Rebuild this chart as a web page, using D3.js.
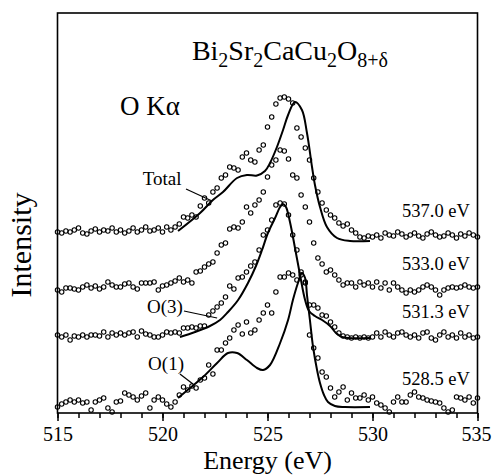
<!DOCTYPE html>
<html>
<head>
<meta charset="utf-8">
<script src="https://cdn.jsdelivr.net/npm/d3@7"></script>
<style>
  body { margin:0; background:#fff; }
  svg text { font-family:"Liberation Serif","Times New Roman",serif; fill:#000; }
</style>
</head>
<body>
<div id="chart"></div>
<script>
// measured on a 0.2 eV grid, 515 - 535 eV
const energies = d3.range(101).map(i => 515 + i * 0.2);

// excitation energies, top to bottom
const excitationLabels = ["537.0 eV", "533.0 eV", "531.3 eV", "528.5 eV"];
// vertical offset of each spectrum (arb. units)
const offsets = [177, 124, 76, 9];

// emission intensity (arb. units, above each offset)
const exc537 = [4,3,5,4,6,8,3,2,5,7,4,6,5,8,4,6,3,5,8,4,6,9,5,6,8,4,9,6,
  9,12,19,18,21,19,30,38,33,44,48,58,61,69,68,66,79,83,76,74,86,91,109,119,132,138,139,137,133,108,99,88,76,58,44,33,26,21,18,13,10,12,6,3,-1,
  -2,0,-1,1,-2,3,1,0,4,2,-1,1,3,0,-2,2,4,1,-1,0,3,1,-2,2,0,3,1,-1];
const exc533 = [-1,-3,1,1,0,-1,2,4,1,3,0,2,7,4,2,2,5,6,2,0,6,6,6,7,-1,3,4,6,8,11,7,9,6,17,18,22,25,27,36,44,46,60,62,61,67,82,76,84,
  89,97,112,124,129,139,138,130,114,111,94,82,67,46,31,25,17,19,14,9,4,6,
  6,2,7,4,6,2,7,1,6,-1,6,2,-1,-4,-1,-3,-1,2,4,2,-1,-6,-1,1,2,1,2,4,2,1,2];
const exc531 = [2,0,2,-3,1,0,2,0,2,2,1,5,0,4,2,4,2,4,5,0,6,3,2,0,0,2,5,4,5,4,9,9,10,9,11,11,
  22,26,30,34,40,51,48,59,60,65,71,75,87,102,107,117,132,134,133,122,102,87,62,54,32,32,29,22,21,15,10,4,1,
  0,-1,0,-1,0,-1,0,4,0,5,2,0,4,5,2,0,2,-1,4,5,-1,-3,2,5,0,2,-1,4,0,2,-1,0];
const exc528 = [-3,0,2,4,2,4,1,2,-6,2,4,6,-4,-8,2,3,11,9,7,4,8,11,-4,4,7,4,0,-3,2,9,
  17,14,18,16,24,26,39,30,54,54,61,66,74,79,70,82,71,74,84,91,99,91,112,127,127,131,129,124,132,122,
  69,56,46,32,27,16,7,12,17,4,11,6,6,9,4,7,1,-1,-4,-8,2,7,2,2,
  9,12,7,6,4,3,2,1,-4,-8,-6,7,6,4,7,1,6];
const spectra = [exc537, exc533, exc531, exc528];

// calculated curves [energy, intensity]
const totalCurve = [[520.74,5],[521.79,23],[522.40,36],[522.88,44],[523.55,58],[524.02,61],[524.50,60.5],[524.88,65],[525.12,73],[525.45,89],[525.74,106],[525.98,121],[526.31,134],[526.64,126],[526.88,103],[527.12,69],[527.26,51],[527.50,29],[527.83,9],[528.31,-2],[528.93,-5],[529.88,-5]];
const o3Curve = [[520.83,0],[521.55,5],[522.26,11],[522.74,17],[523.12,25],[523.60,37],[524.07,54],[524.45,71],[524.74,87],[525.02,104],[525.36,119],[525.60,130],[525.74,133],[525.88,130],[526.07,115],[526.31,89],[526.55,62],[526.79,37],[526.98,26],[527.26,21],[527.60,17],[527.98,11],[528.26,4],[528.55,0],[529.88,-1]];
const o1Curve = [[520.74,6],[521.31,16],[521.93,27],[522.60,41],[523.12,51],[523.55,51],[524.02,44],[524.50,36],[524.79,34],[525.12,39],[525.60,61],[525.98,84],[526.21,104],[526.45,121],[526.64,131],[526.79,126],[526.88,109],[527.02,84],[527.17,57],[527.36,34],[527.50,21],[527.69,9],[527.88,2],[528.21,-2],[528.69,-3],[529.88,-3]];
const curves = [
    { name:"Total", spectrum:0, points:totalCurve, label:[519.98, 228], leader:[[521.12,224],[522.36,212]] },
    { name:"O(3)", spectrum:2, points:o3Curve, label:[520.12, 100], leader:[[521.02,102],[522.6,95]] },
    { name:"O(1)", spectrum:3, points:o1Curve, label:[520.17, 43], leader:[[520.83,39],[521.45,29]] }
];

const majorTicks = [515, 520, 525, 530, 535];
const minorTicks = d3.range(515, 536, 1);

//dimensions
const width = 492;
const height = 476;
const margin = { top:13, right:14.5, bottom:63, left:57.5 };
const contentsWidth = width - margin.left - margin.right;
const contentsHeight = height - margin.top - margin.bottom;

const x = d3.scaleLinear().domain([515, 535]).range([0, contentsWidth]);
const y = d3.scaleLinear().domain([0, 400]).range([contentsHeight, 0]);

const svg = d3.select("#chart").append("svg")
    .attr("width", width)
    .attr("height", height);

const contentsG = svg.append("g")
    .attr("transform", `translate(${margin.left},${margin.top})`);

//axis ticks
contentsG.append("g")
    .attr("class", "minor-axis")
    .attr("transform", `translate(0,${contentsHeight})`)
    .call(d3.axisBottom(x).tickValues(minorTicks).tickSize(5).tickFormat(""))
    .call(g => g.select(".domain").remove())
    .selectAll("line").attr("stroke-width", 1.5);

const xAxisG = contentsG.append("g")
    .attr("class", "major-axis")
    .attr("transform", `translate(0,${contentsHeight})`)
    .call(d3.axisBottom(x).tickValues(majorTicks).tickSize(8).tickPadding(6).tickFormat(d3.format("d")))
    .call(g => g.select(".domain").remove());
xAxisG.selectAll("line").attr("stroke-width", 1.5);
xAxisG.selectAll("text")
    .attr("font-size", 20)
    .attr("font-family", "Liberation Serif, Times New Roman, serif")
    .attr("fill", "#000")
    .attr("dx", d => d === 535 ? -1.5 : 0);

//frame
contentsG.append("rect")
    .attr("class", "frame")
    .attr("width", contentsWidth)
    .attr("height", contentsHeight)
    .attr("fill", "none")
    .attr("stroke", "#000")
    .attr("stroke-width", 1.6);

//calculated curves
const line = d3.line()
    .x(d => x(d[0]))
    .y(d => y(d[1]))
    .curve(d3.curveCatmullRom.alpha(0.5));

contentsG.selectAll("path.curve")
    .data(curves)
    .enter()
    .append("path")
        .attr("class", "curve")
        .attr("fill", "none")
        .attr("stroke", "#000")
        .attr("stroke-width", 2)
        .attr("d", c => line(c.points.map(p => [p[0], p[1] + offsets[c.spectrum]])));

//measured spectra
const spectrumG = contentsG.selectAll("g.spectrum")
    .data(spectra)
    .enter()
    .append("g")
        .attr("class", "spectrum");

spectrumG.selectAll("circle")
    .data((d, i) => d.map((v, j) => ({ e:energies[j], v:v + offsets[i] })))
    .enter()
    .append("circle")
        .attr("cx", d => x(d.e))
        .attr("cy", d => y(d.v))
        .attr("r", 2.2)
        .attr("fill", "none")
        .attr("stroke", "#000")
        .attr("stroke-width", 1.1);

//excitation energy labels
contentsG.selectAll("text.excitation")
    .data(excitationLabels)
    .enter()
    .append("text")
        .attr("class", "excitation")
        .attr("x", x(534.64))
        .attr("y", (d, i) => y(offsets[i] + 19))
        .attr("text-anchor", "end")
        .attr("font-size", 18.5)
        .text(d => d);

//curve names + leaders
contentsG.selectAll("text.curve-name")
    .data(curves)
    .enter()
    .append("text")
        .attr("class", "curve-name")
        .attr("x", c => x(c.label[0]))
        .attr("y", c => y(c.label[1]))
        .attr("text-anchor", "middle")
        .attr("font-size", 19)
        .text(c => c.name);

contentsG.selectAll("line.leader")
    .data(curves)
    .enter()
    .append("line")
        .attr("class", "leader")
        .attr("x1", c => x(c.leader[0][0]))
        .attr("y1", c => y(c.leader[0][1]))
        .attr("x2", c => x(c.leader[1][0]))
        .attr("y2", c => y(c.leader[1][1]))
        .attr("stroke", "#000")
        .attr("stroke-width", 1.2);

//title
const title = contentsG.append("text")
    .attr("class", "title")
    .attr("x", x(521.4))
    .attr("y", y(353))
    .attr("font-size", 28);
const titleParts = [["Bi", false], ["2", true], ["Sr", false], ["2", true], ["CaCu", false], ["2", true], ["O", false], ["8+δ", true]];
titleParts.forEach((p, i) => {
    const prevSub = i > 0 && titleParts[i - 1][1];
    title.append("tspan")
        .attr("dy", p[1] ? 7 : (prevSub ? -7 : 0))
        .attr("font-size", p[1] ? 20 : 28)
        .text(p[0]);
});

contentsG.append("text")
    .attr("class", "line-name")
    .attr("x", x(517.98))
    .attr("y", y(298))
    .attr("font-size", 27)
    .text("O Kα");

//axis titles
svg.append("text")
    .attr("x", margin.left + x(525))
    .attr("y", 469)
    .attr("text-anchor", "middle")
    .attr("font-size", 26)
    .text("Energy (eV)");

svg.append("text")
    .attr("transform", `translate(31,245) rotate(-90)`)
    .attr("text-anchor", "middle")
    .attr("font-size", 30)
    .text("Intensity");
</script>
</body>
</html>
